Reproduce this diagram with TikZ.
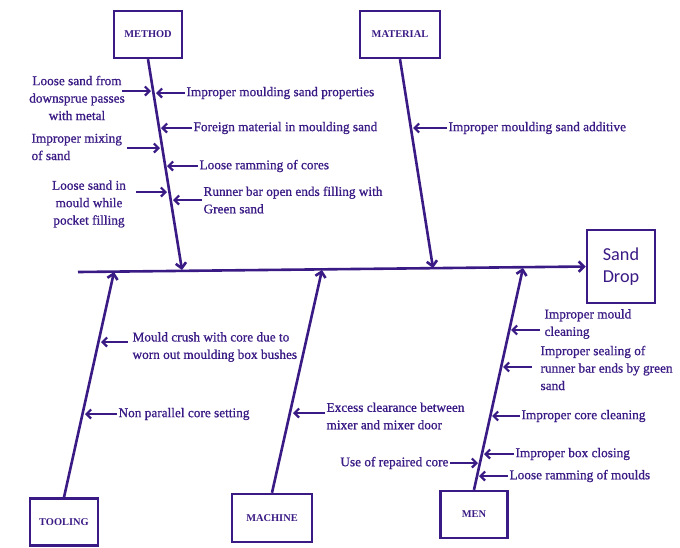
\documentclass[tikz,border=0pt]{standalone}
\usepackage{fontspec}
\setmainfont{Liberation Serif}
\newfontfamily\causefont[FakeBold=0.9]{Liberation Serif}
\newfontfamily\dropfont{Carlito}
\usetikzlibrary{arrows.meta}
\definecolor{ink}{RGB}{58,26,132}

\begin{document}
\begin{tikzpicture}[x=0.027cm, y=-0.027cm,
    cat/.style={draw=ink, line width=1.8pt, text=ink, minimum height=1.27cm,
      font=\fontsize{8}{9}\selectfont\bfseries},
    cause/.style={text=ink, inner sep=1pt, font=\causefont\fontsize{10.2}{13.4}\selectfont},
    bone/.style={draw=ink, line width=2pt, -{Straight Barb[length=4pt, width=8pt]}},
    sub/.style={draw=ink, line width=1.7pt, -{Straight Barb[length=3.5pt, width=7pt]}}]
		\useasboundingbox (0,0) rectangle (680,547);
		
		\node[cat, minimum width=1.84cm] (method) at (148,34.5) {METHOD};
		\node[cat, minimum width=2.16cm] (material) at (400,34.5) {MATERIAL};
		\node[cat, minimum width=1.84cm] (tooling) at (64,522) {TOOLING};
		\node[cat, minimum width=2.16cm, minimum height=1.3cm] (machine) at (272,518) {MACHINE};
		\node[cat, minimum width=1.81cm] (men) at (474,514.5) {MEN};
		\node[cat, minimum width=1.84cm, minimum height=1.97cm, align=center,
		  font=\dropfont\fontsize{14}{17}\selectfont] (drop) at (621,266.5) {Sand\\Drop};
		
		% spine and bones
		\coordinate (tail) at (78,272);
		\coordinate (mtend) at (182,270);
		\coordinate (maend) at (433,268);
		\coordinate (toend) at (114,272);
		\coordinate (mcend) at (322,270);
		\coordinate (mnend) at (523,268);
		
		\draw[bone] (tail) -- (drop.west);
		\draw[bone] (method.south) -- (mtend);
		\draw[bone] (material.south) -- (maend);
		\draw[bone] (tooling.north) -- (toend);
		\draw[bone] (machine.north) -- (mcend);
		\draw[bone] (men.north) -- (mnend);
		
		% method
		\node[cause, anchor=west] (mr1) at (185,93) {Improper moulding sand properties};
		\node[cause, anchor=west] (mr2) at (192,128) {Foreign material in moulding sand};
		\node[cause, anchor=west] (mr3) at (198,166) {Loose ramming of cores};
		\node[cause, anchor=west, align=left] (mr4) at (202,200) {Runner bar open ends filling with\\Green sand};
		\node[cause, align=center] (ml1) at (77,98) {Loose sand from\\downsprue passes\\with metal};
		\node[cause, anchor=west, align=left] (ml2) at (30,147) {Improper mixing\\of sand};
		\node[cause, align=center] (ml3) at (89,204) {Loose sand in\\mould while\\pocket filling};
		\coordinate (ml1t) at (122,91);
		\coordinate (ml2t) at (127,148);
		\coordinate (ml3t) at (136,192);
		\coordinate (mr1h) at (156,93);
		\coordinate (mr2h) at (161,128);
		\coordinate (mr3h) at (167,166);
		\coordinate (mr4h) at (173,200);
		\coordinate (ml1h) at (151,91);
		\coordinate (ml2h) at (160,148);
		\coordinate (ml3h) at (167,192);
		\draw[sub] (mr1) -- (mr1h);
		\draw[sub] (mr2) -- (mr2h);
		\draw[sub] (mr3) -- (mr3h);
		\draw[sub] (mr4.west) -- (mr4h);
		\draw[sub] (ml1t) -- (ml1h);
		\draw[sub] (ml2t) -- (ml2h);
		\draw[sub] (ml3t) -- (ml3h);
		
		% material
		\node[cause, anchor=west] (ma1) at (447,128) {Improper moulding sand additive};
		\coordinate (ma1h) at (413,128);
		\draw[sub] (ma1) -- (ma1h);
		
		% tooling
		\node[cause, anchor=west, align=left] (to1) at (131,347) {Mould crush with core due to\\worn out moulding box bushes};
		\node[cause, anchor=west] (to2) at (117,414) {Non parallel core setting};
		\coordinate (to1t) at (128,342);
		\coordinate (to1h) at (101,342);
		\coordinate (to2h) at (85,414);
		\draw[sub] (to1t) -- (to1h);
		\draw[sub] (to2) -- (to2h);
		
		% machine
		\node[cause, anchor=west, align=left] (mc1) at (325,416) {Excess clearance between\\mixer and mixer door};
		\coordinate (mc1t) at (325,413);
		\coordinate (mc1h) at (293,413);
		\draw[sub] (mc1t) -- (mc1h);
		
		% men
		\node[cause, anchor=west, align=left] (mn1) at (543,324) {Improper mould\\cleaning};
		\node[cause, anchor=west, align=left] (mn2) at (539,368) {Improper sealing of\\runner bar ends by green\\sand};
		\node[cause, anchor=west] (mn3) at (520,416) {Improper core cleaning};
		\node[cause, anchor=west] (mn4) at (514,454) {Improper box closing};
		\node[cause, anchor=east] (mn5) at (450,463) {Use of repaired core};
		\node[cause, anchor=west] (mn6) at (508,476) {Loose ramming of moulds};
		\coordinate (mn1t) at (540,330);
		\coordinate (mn2t) at (532,367);
		\coordinate (mn1h) at (511,330);
		\coordinate (mn2h) at (503,367);
		\coordinate (mn3h) at (492,416);
		\coordinate (mn4h) at (484,454);
		\coordinate (mn5h) at (478,463);
		\coordinate (mn6h) at (479,476);
		\draw[sub] (mn1t) -- (mn1h);
		\draw[sub] (mn2t) -- (mn2h);
		\draw[sub] (mn3) -- (mn3h);
		\draw[sub] (mn4) -- (mn4h);
		\draw[sub] (mn5) -- (mn5h);
		\draw[sub] (mn6) -- (mn6h);
		
	\end{tikzpicture}
\end{document}
